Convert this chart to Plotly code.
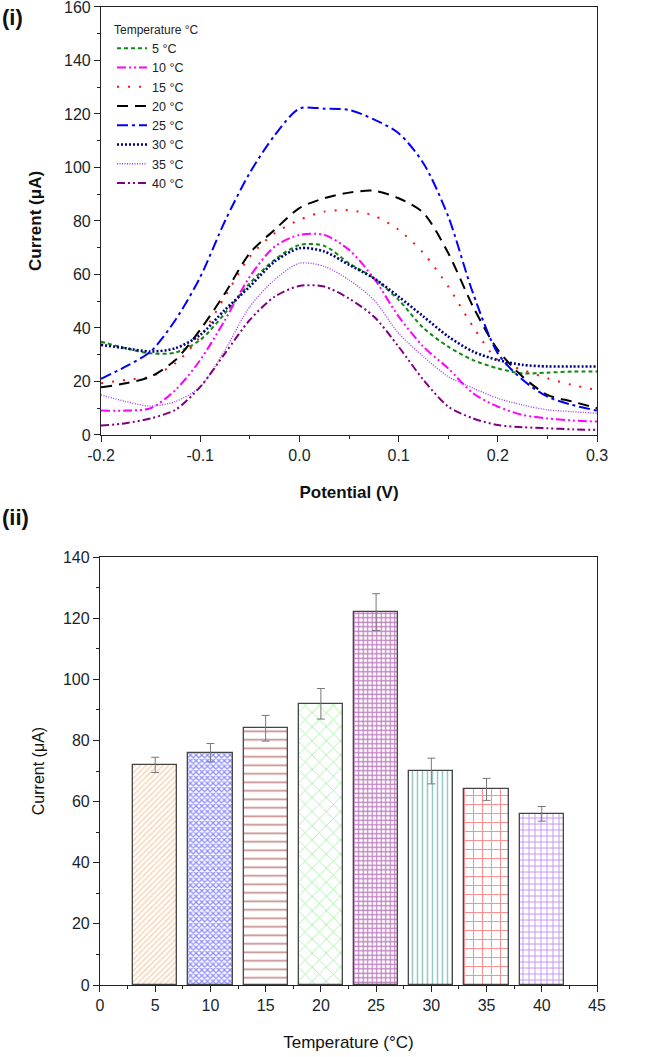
import plotly.graph_objects as go
from plotly.subplots import make_subplots

# (i) voltammograms, potential in V, current in uA
potential = [-0.2, -0.175, -0.15, -0.125, -0.1, -0.075, -0.05, -0.025, 0.0, 0.025, 0.05,
             0.075, 0.1, 0.125, 0.15, 0.175, 0.2, 0.225, 0.25, 0.275, 0.3]

i_5 = [34.9, 32.4, 30.5, 30.8, 35.5, 45.5, 56.7, 65.5, 71.0, 70.7, 64.2,
       58.6, 50.5, 40.0, 33.0, 28.0, 24.9, 23.0, 23.3, 23.7, 23.7]
i_10 = [9.1, 9.1, 10.0, 16.8, 28.0, 43.0, 59.2, 70.4, 74.8, 74.8, 69.2,
        58.6, 44.3, 33.0, 24.9, 15.6, 10.6, 7.5, 6.2, 5.4, 5.0]
i_15 = [19.3, 20.6, 21.8, 26.8, 36.8, 51.7, 66.7, 75.4, 80.4, 83.5, 84.0,
        82.0, 76.7, 68.0, 55.5, 40.5, 28.0, 24.3, 21.2, 18.7, 16.8]
i_20 = [17.8, 19.3, 21.8, 28.0, 39.3, 53.0, 68.0, 76.7, 84.8, 88.5, 90.6,
        91.3, 88.5, 83.0, 68.0, 48.0, 31.8, 21.8, 15.0, 12.5, 10.0]
i_25 = [21.0, 25.6, 31.2, 43.0, 59.0, 80.0, 98.0, 112.0, 122.0, 122.0, 121.5,
        118.0, 112.8, 101.6, 81.7, 53.0, 30.5, 20.6, 14.3, 11.2, 9.1]
i_30 = [33.7, 32.4, 31.2, 32.4, 37.4, 46.8, 55.5, 64.8, 69.8, 68.6, 63.6,
        58.6, 51.7, 44.3, 36.8, 31.2, 28.0, 26.2, 25.6, 25.6, 25.6]
i_35 = [15.0, 12.5, 10.8, 12.5, 18.0, 31.8, 48.0, 58.0, 64.2, 63.0, 58.0,
        50.5, 38.0, 29.3, 21.8, 17.5, 13.7, 11.2, 9.4, 8.7, 8.1]
i_40 = [3.5, 4.4, 6.2, 9.4, 18.0, 30.5, 43.0, 51.7, 55.7, 55.5, 51.0,
        44.3, 33.0, 20.6, 10.6, 6.2, 3.7, 2.9, 2.5, 2.1, 1.9]

curve_names = ["5 °C", "10 °C", "15 °C", "20 °C", "25 °C", "30 °C", "35 °C", "40 °C"]
potential_ticks = [-0.2, -0.1, 0.0, 0.1, 0.2, 0.3]
potential_ticktext = ["-0.2", "-0.1", "0.0", "0.1", "0.2", "0.3"]

# (ii) peak current vs temperature
temperature = [5, 10, 15, 20, 25, 30, 35, 40]
peak_current = [72, 76, 84, 92, 122, 70, 64, 56]
peak_error = [2.5, 3.0, 4.2, 5.0, 6.0, 4.2, 3.6, 2.4]

FONT = "Liberation Sans, Arial, sans-serif"

curves = [i_5, i_10, i_15, i_20, i_25, i_30, i_35, i_40]
line_styles = [
    ("#118811", "4px,3px", 2),
    ("#ff00ff", "9px,3px,2px,3px,2px,3px", 2),
    ("#ff1111", "2px,9px", 2),
    ("#000000", "11px,7px", 2),
    ("#0000ff", "11px,4px,3px,4px", 2),
    ("#000080", "2px,2px", 2.6),
    ("#9933ff", "1px,1.5px", 1.3),
    ("#800080", "8px,3px,2px,3px,2px,3px", 2),
]

fig = make_subplots(rows=2, cols=1)

for name, ys, (color, dash, width) in zip(curve_names, curves, line_styles):
    fig.add_trace(go.Scatter(x=potential, y=ys, name=name, mode="lines",
                             line=dict(color=color, dash=dash, width=width, shape="spline", smoothing=0.8)),
                  row=1, col=1)

fig.add_trace(go.Bar(x=temperature, y=peak_current, width=4,
                     showlegend=False,
                     marker=dict(color="white",
                                 line=dict(color="#444444", width=1.3),
                                 pattern=dict(shape=["/", "x", "-", "x", "+", "|", "+", "+"],
                                              fgcolor=["#f0a050", "#2020ff", "#8b1a1a", "#33dd33",
                                                       "#800080", "#2a9090", "#ff1a1a", "#8a2be2"],
                                              bgcolor="white",
                                              size=[4, 4, 8.5, 10, 4.5, 5, 9, 6],
                                              solidity=[0.32, 0.55, 0.2, 0.15, 0.45, 0.3, 0.22, 0.3],
                                              fillmode="overlay")),
                     error_y=dict(type="data", array=peak_error, color="#777777", thickness=1, width=4)),
              row=2, col=1)

axis_common = dict(showline=True, linecolor="#222222", linewidth=1.2, mirror=True, automargin=False,
                   ticks="outside", ticklen=6, tickcolor="#222222", showgrid=False, zeroline=False,
                   ticklabeloverflow="allow",
                   tickfont=dict(family=FONT, size=16, color="#1a1f2a"))

fig.update_xaxes(domain=[0.1566, 0.9256], range=[-0.2, 0.3],
                 tickmode="array", tickvals=potential_ticks, ticktext=potential_ticktext,
                 minor=dict(ticks="outside", ticklen=3, dtick=0.05, tickcolor="#222222"),
                 title=dict(text="<b>Potential (V)</b>", font=dict(family=FONT, size=17, color="#111111"),
                            standoff=22),
                 **axis_common, row=1, col=1)
fig.update_yaxes(domain=[0.5885, 0.9934], range=[0, 160], dtick=20,
                 minor=dict(ticks="outside", ticklen=3, dtick=10, tickcolor="#222222"),
                 title=dict(text="<b>Current (μA)</b>", font=dict(family=FONT, size=17, color="#111111"),
                            standoff=18),
                 **axis_common, row=1, col=1)
fig.update_xaxes(domain=[0.155, 0.9256], range=[0, 45], dtick=5,
                 minor=dict(ticks="outside", ticklen=3, dtick=2.5, tickcolor="#222222"),
                 title=dict(text="Temperature (°C)", font=dict(family=FONT, size=17, color="#111111"),
                            standoff=22),
                 **axis_common, row=2, col=1)
fig.update_yaxes(domain=[0.0681, 0.4730], range=[0, 140], dtick=20,
                 minor=dict(ticks="outside", ticklen=3, dtick=10, tickcolor="#222222"),
                 title=dict(text="Current (μA)", font=dict(family=FONT, size=16, color="#111111"),
                            standoff=14),
                 **axis_common, row=2, col=1)

fig.add_annotation(text="<b>(i)</b>", x=0.0, y=1 - 18 / 1057, xref="paper", yref="paper",
                   xanchor="left", yanchor="middle", showarrow=False,
                   font=dict(family=FONT, size=22, color="#111111"))
fig.add_annotation(text="<b>(ii)</b>", x=0.0, y=1 - 517 / 1057, xref="paper", yref="paper",
                   xanchor="left", yanchor="middle", showarrow=False,
                   font=dict(family=FONT, size=22, color="#111111"))

fig.update_layout(width=645, height=1057, margin=dict(l=0, r=0, t=0, b=0, autoexpand=False),
                  paper_bgcolor="white", plot_bgcolor="white",
                  font=dict(family=FONT, color="#222222"),
                  bargap=0,
                  legend=dict(x=112 / 645, y=1 - 18 / 1057, xref="paper", yref="paper",
                              xanchor="left", yanchor="top",
                              bgcolor="rgba(0,0,0,0)", borderwidth=0,
                              title=dict(text="Temperature °C", font=dict(family=FONT, size=12, color="#222222")),
                              font=dict(family=FONT, size=12.5, color="#222222"),
                              tracegroupgap=0, itemwidth=30))

# the page's default body margin would shift the whole figure by 8px
fig.write_html("out.html", config={"displayModeBar": False},
               post_script="document.body.style.margin='0';")
